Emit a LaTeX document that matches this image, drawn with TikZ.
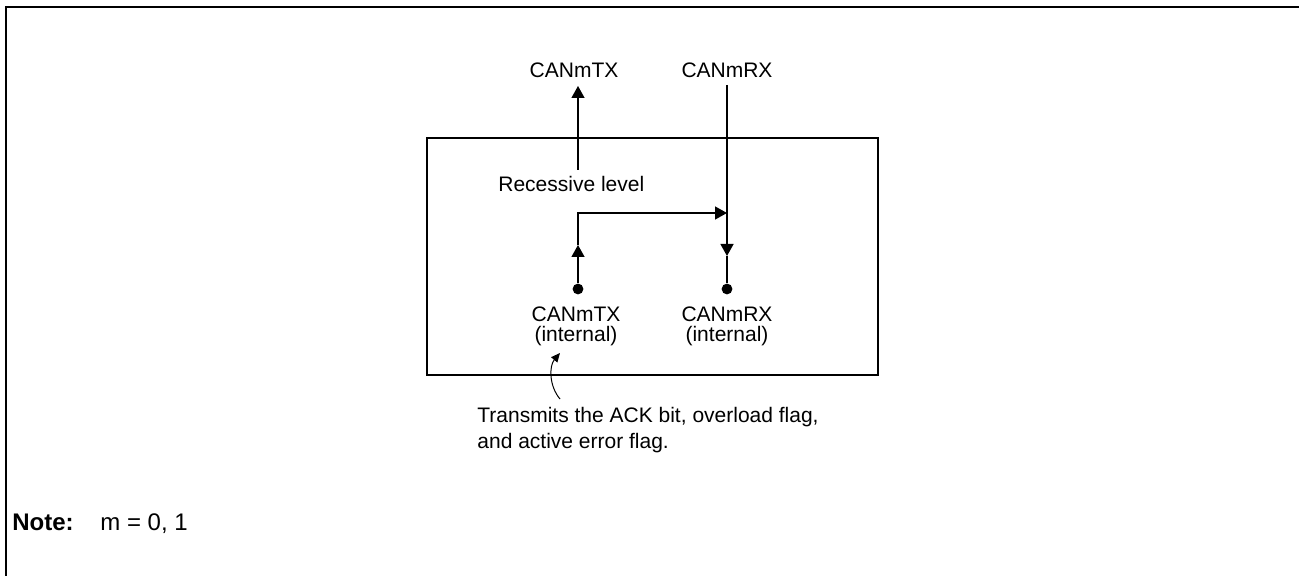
\documentclass[tikz,border=0pt]{standalone}
\usepackage{fontspec}
\setmainfont{Liberation Sans}
\usetikzlibrary{arrows.meta,positioning}

\begin{document}
\begin{tikzpicture}[x=0.5pt, y=-0.5pt,
  every node/.style={font=\fontsize{10.5}{10}\selectfont, inner sep=0pt},
  sig/.style={line width=0.65pt},
  tip/.style={-{Triangle[length=6pt,width=6.5pt]}},
  pin/.style={circle, fill, minimum size=5.4pt}]
\useasboundingbox (0,0) rectangle (1299,576);
% outer frame
\draw[line width=1.1pt] (6,576) -- (6,7) -- (1299,7);
% block
\draw[sig] (427,138) rectangle (878,375);
% pin labels
\node[anchor=base] (txout) at (574,78) {CANmTX};
\node[anchor=base] (rxout) at (727,78) {CANmRX};
\node[anchor=base west] (rec) at (498,192) {Recessive level};
\node[pin] (txdot) at (578,289) {};
\node[pin] (rxdot) at (727,289) {};
\node[anchor=base, align=center] (txin) at (576,342) {CANmTX\\(internal)};
\node[anchor=base, align=center] (rxin) at (727,342) {CANmRX\\(internal)};
\coordinate (txrec) at (578,170);
\coordinate (txup) at (578,86);
\coordinate (txarr) at (578,245);
\coordinate (bend) at (578,213);
\coordinate (rxjoin) at (727,213);
\coordinate (rxtop) at (727,85);
\coordinate (rxarr) at (727,256);
% loop back
\draw[sig, tip] (txrec) -- (txup);
\draw[sig, tip] (rxtop) -- (rxarr);
\draw[sig] (rxarr) -- (rxdot);
\draw[sig, tip] (txdot) -- (txarr);
\draw[sig, tip] (txarr) -- (bend) -- (rxjoin);
% callout
\node[anchor=base west, align=left, font=\fontsize{10.5}{13}\selectfont] (ack) at (477,448)
  {Transmits the ACK bit, overload flag,\\and active error flag.};
\coordinate (ackend) at (560,399);
\coordinate (acktip) at (560,353);
\draw[line width=0.5pt, -{Triangle[length=4.5pt,width=4pt]}]
  (ackend) .. controls (549,386) and (549,366) .. (acktip);
% note
\node[anchor=base west, font=\fontsize{12}{12}\selectfont\bfseries] (note) at (12,530) {Note:};
\node[anchor=base west, font=\fontsize{12}{12}\selectfont] (noteval) at (100,530) {m = 0, 1};
\end{tikzpicture}
\end{document}
